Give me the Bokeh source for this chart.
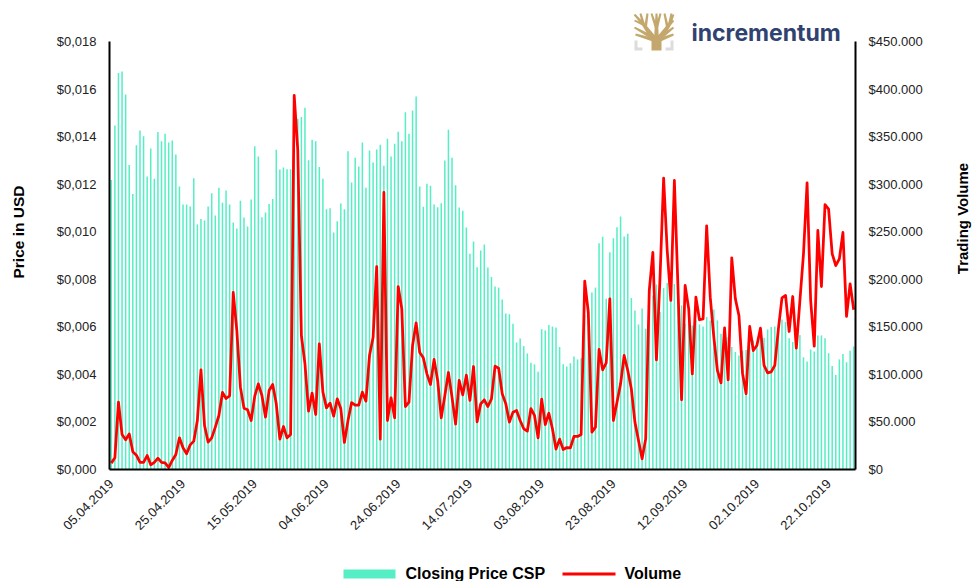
from math import pi
from datetime import date, timedelta
from bokeh.plotting import figure
from bokeh.models import (LinearAxis, Range1d, FixedTicker, Label, PolyAnnotation, BoxAnnotation, ColumnDataSource)
from bokeh.embed import file_html
from bokeh.resources import INLINE

START_DATE = date(2019, 4, 5)

price_usd = [0.01218,0.01447,0.01667,0.01674,0.01577,0.01281,0.01159,0.01364,0.01426,0.01401,
0.01232,0.01350,0.01223,0.01419,0.01380,0.01412,0.01375,0.01384,0.01325,0.01190,
0.01115,0.01115,0.01106,0.01225,0.01030,0.01054,0.01047,0.01106,0.01162,0.01068,
0.01185,0.01122,0.01173,0.01115,0.01039,0.01014,0.01130,0.01060,0.01022,0.01136,
0.01359,0.01316,0.01061,0.01081,0.01117,0.01138,0.01345,0.01262,0.01270,0.01263,
0.01263,0.01450,0.01475,0.01483,0.01521,0.01301,0.01387,0.01380,0.01272,0.01223,
0.01094,0.01099,0.00997,0.01044,0.01119,0.01094,0.01338,0.01207,0.01311,0.01274,
0.01375,0.01185,0.01342,0.01291,0.01346,0.01366,0.01277,0.01391,0.01316,0.01370,
0.01420,0.01380,0.01502,0.01412,0.01510,0.01569,0.01190,0.01105,0.01202,0.01193,
0.01115,0.01103,0.01120,0.01300,0.01429,0.01311,0.01195,0.01102,0.01088,0.01018,
0.00907,0.00959,0.00851,0.00921,0.00946,0.00850,0.00810,0.00770,0.00765,0.00715,
0.00656,0.00653,0.00613,0.00534,0.00551,0.00519,0.00488,0.00449,0.00442,0.00411,
0.00590,0.00585,0.00608,0.00601,0.00597,0.00515,0.00443,0.00433,0.00447,0.00475,
0.00463,0.00468,0.00650,0.00690,0.00744,0.00765,0.00951,0.00979,0.00718,0.00914,
0.00973,0.01019,0.01064,0.00980,0.00991,0.00721,0.00669,0.00610,0.00677,0.00592,
0.00753,0.00732,0.00778,0.00662,0.00763,0.00784,0.00774,0.00780,0.00753,0.00690,
0.00613,0.00641,0.00606,0.00630,0.00610,0.00601,0.00641,0.00627,0.00673,0.00627,
0.00571,0.00557,0.00557,0.00515,0.00494,0.00479,0.00500,0.00503,0.00515,0.00543,
0.00536,0.00557,0.00554,0.00589,0.00599,0.00601,0.00592,0.00631,0.00620,0.00552,
0.00536,0.00522,0.00566,0.00472,0.00454,0.00505,0.00496,0.00564,0.00564,0.00552,
0.00489,0.00435,0.00397,0.00463,0.00486,0.00451,0.00499,0.00517]

volume = [6700,12300,70800,36800,31200,37500,18600,15100,7400,7400,
14700,4900,7400,11900,7400,7000,2100,9500,15800,33300,
22800,16500,25900,29800,51500,104800,46300,28700,33300,44500,
56800,81000,74700,77500,186100,146200,86600,64500,62700,51500,
77100,90100,77800,55000,83100,89400,69000,31900,45200,33300,
36800,393300,335400,140900,111100,61300,80300,57800,132100,81300,
64800,69700,56100,74300,63800,28400,51500,70400,67600,67600,
81300,71900,119900,139100,213400,31900,291300,51500,75400,54300,
192400,168900,66200,70800,130400,154200,123000,117400,100600,89400,
115700,93600,54300,77800,102000,76100,47700,93600,78500,99200,
72600,108300,50100,69000,73300,66200,74300,108700,106500,79600,
69000,49800,60300,62000,51500,42800,40300,64100,56800,33300,
74000,47300,59200,42800,21400,31900,21000,23100,22800,34700,
34700,36800,198000,165400,39300,44500,126200,104800,112200,179500,
51500,70800,90100,119900,104100,84800,49800,30500,11200,32200,
188200,228200,115300,202200,306300,230300,177700,303900,191700,73300,
193500,168900,100600,181200,157400,158400,256200,181200,139100,104100,
91100,149000,94300,222600,179500,161900,101300,79600,150400,125100,
130400,148600,109400,101600,102700,109400,147900,180500,183000,145100,
181900,127600,177700,226800,301400,177700,129700,251300,192400,278600,
273700,226800,214500,221500,249200,160900,195200,167900]

price_ticks = [0.0, 0.002, 0.004, 0.006, 0.008, 0.01, 0.012, 0.014, 0.016, 0.018]
price_labels = ["$0,000","$0,002","$0,004","$0,006","$0,008","$0,010","$0,012","$0,014","$0,016","$0,018"]
volume_ticks = [0, 50000, 100000, 150000, 200000, 250000, 300000, 350000, 400000, 450000]
volume_labels = ["$0","$50.000","$100.000","$150.000","$200.000","$250.000","$300.000","$350.000","$400.000","$450.000"]
date_ticks = list(range(0, 208, 20))
date_labels = [(START_DATE + timedelta(days=d)).strftime("%d.%m.%Y") for d in date_ticks]

FONT = "Liberation Sans"
TEAL = "#55EEC5"
RED = "#FF0000"
GOLD = "#C4A76C"
GREY = "#DCDCDC"
NAVY = "#2F4270"

# the frame fills the page so that logo, legend and titles can sit around the axes
W, H = 972, 581
PLOT_L, PLOT_R, PLOT_T, PLOT_B = 109, 855, 41, 469

idx = list(range(len(price_usd)))
source = ColumnDataSource(dict(i=idx, price=price_usd, volume=volume))


def full_range(lo, hi, p_lo, p_hi, total):
    per_px = (hi - lo) / (p_hi - p_lo)
    return Range1d(lo - p_lo * per_px, hi + (total - p_hi) * per_px)


x_lo, x_hi = -0.5, len(idx) - 0.5
p = figure(frame_width=W, frame_height=H, min_border=0, output_backend="svg", toolbar_location=None,
           x_range=full_range(x_lo, x_hi, PLOT_L, PLOT_R, W),
           y_range=full_range(0, 0.018, H - PLOT_B, H - PLOT_T, H), tools="")
p.outline_line_color = None
p.grid.visible = False
p.extra_y_ranges = {"vol": full_range(0, 450000, H - PLOT_B, H - PLOT_T, H)}
right = LinearAxis(y_range_name="vol", fixed_location=x_hi, bounds=(0, 450000))
p.add_layout(right, "right")
p.xaxis[0].fixed_location = 0
p.xaxis[0].bounds = (x_lo, x_hi)
p.yaxis[0].fixed_location = x_lo
p.yaxis[0].bounds = (0, 0.018)

p.vbar(x="i", top="price", bottom=0, width=0.42, source=source, color=TEAL, line_color=None)
p.line(x="i", y="volume", source=source, y_range_name="vol", color=RED, line_width=2.75, line_join="round")

for ax in (p.xaxis[0], p.yaxis[0], right):
    ax.major_tick_line_color = None
    ax.minor_tick_line_color = None
    ax.axis_line_color = "black"
    ax.axis_line_width = 2
    ax.major_label_text_font = FONT
    ax.major_label_text_font_size = "13px"
    ax.major_label_text_color = "#222222"

p.yaxis[0].ticker = FixedTicker(ticks=price_ticks)
p.yaxis[0].major_label_overrides = dict(zip(price_ticks, price_labels))
p.yaxis[0].major_label_standoff = 7
right.ticker = FixedTicker(ticks=volume_ticks)
right.major_label_overrides = dict(zip(volume_ticks, volume_labels))
right.major_label_standoff = 7
p.xaxis[0].ticker = FixedTicker(ticks=date_ticks)
p.xaxis[0].major_label_overrides = dict(zip(date_ticks, date_labels))
p.xaxis[0].major_label_orientation = pi / 4
p.xaxis[0].major_label_standoff = 6


def text(x, y, s, size="16px", bold=True, angle=0.0, color="black", align="center", font=FONT):
    p.add_layout(Label(x=x, y=y, x_units="canvas", y_units="canvas", text=s, text_font=font,
                       text_font_size=size, text_font_style="bold" if bold else "normal",
                       text_color=color, angle=angle, text_align=align, text_baseline="middle"))


text(18, 231.5, "Price in USD", size="15.5px", angle=pi / 2)
text(962, 218, "Trading Volume", size="15px", angle=pi / 2)

# legend
p.add_layout(BoxAnnotation(left=343, right=395, top=569, bottom=578,
                           left_units="canvas", right_units="canvas", top_units="canvas", bottom_units="canvas",
                           fill_color=TEAL, fill_alpha=1, line_color=None))
text(405, 573, "Closing Price CSP", align="left")
p.add_layout(BoxAnnotation(left=562, right=615, top=572, bottom=575,
                           left_units="canvas", right_units="canvas", top_units="canvas", bottom_units="canvas",
                           fill_color=RED, fill_alpha=1, line_color=None))
text(624, 573, "Volume", align="left")


# logo
def poly(xs, ys, color):
    p.add_layout(PolyAnnotation(xs=xs, ys=ys, xs_units="canvas", ys_units="canvas",
                                fill_color=color, fill_alpha=1, line_color=None))


def branch(x0, y0, x1, y1, w0, w1):
    dx, dy = x1 - x0, y1 - y0
    n = (dx * dx + dy * dy) ** 0.5
    ux, uy = -dy / n, dx / n
    poly([x0 + ux * w0, x1 + ux * w1, x1 - ux * w1, x0 - ux * w0],
         [y0 + uy * w0, y1 + uy * w1, y1 - uy * w1, y0 - uy * w0], GOLD)


poly([634, 637, 637, 642, 642, 634], [40, 40, 47, 47, 50, 50], GREY)
poly([673, 670, 670, 665, 665, 673], [40, 40, 47, 47, 50, 50], GREY)
poly([651, 661, 661, 651], [36, 36, 50, 50], GOLD)
logo_limbs = [
    (653, 38, 643, 24, 3.0, 1.6), (659, 38, 669, 24, 3.0, 1.6), (656, 38, 656, 13, 2.4, 1.0),
    (643, 24, 634, 14, 1.5, 1.0), (643, 24, 634, 20, 1.5, 0.9), (643, 24, 640, 13, 1.5, 1.0),
    (645, 27, 647, 13, 1.4, 1.0), (669, 24, 673, 14, 1.5, 1.0), (669, 24, 673, 20, 1.5, 0.9),
    (669, 24, 671, 13, 1.5, 1.0), (667, 27, 664, 13, 1.4, 1.0), (656, 28, 651, 13, 1.4, 1.0),
    (656, 28, 660, 13, 1.4, 1.0), (652, 37, 634, 27, 2.0, 1.0), (660, 37, 673, 27, 2.0, 1.0),
    (652, 39, 635, 34, 1.8, 1.1), (660, 39, 673, 34, 1.8, 1.1),
]
for limb in logo_limbs:
    branch(*limb)
text(691, 32, "incrementum", size="23px", color=NAVY, align="left", font="Inter")

open("out.html", "w").write(file_html(p, INLINE))
